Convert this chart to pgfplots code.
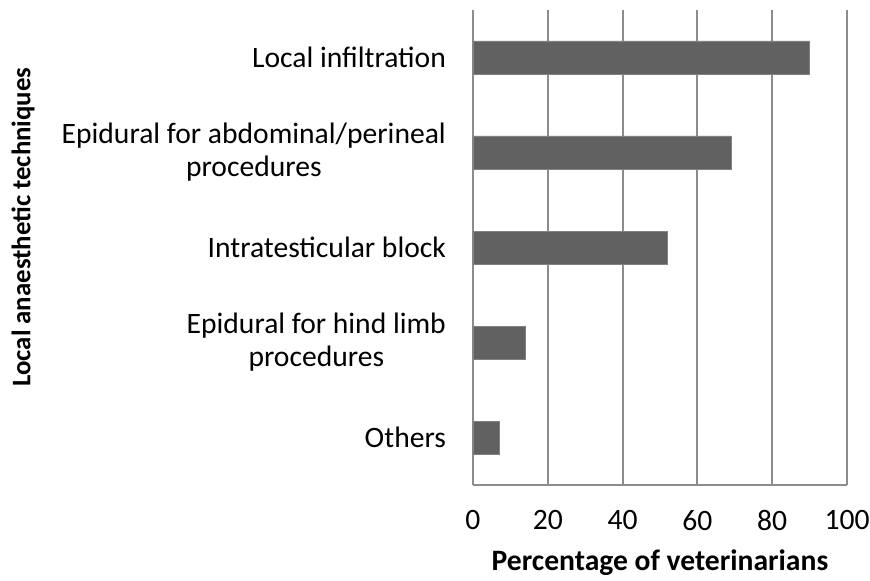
\documentclass[border=0pt]{standalone}
\usepackage{fontspec}
\setmainfont{Carlito}
\usepackage{pgfplots}
\pgfplotsset{compat=1.18}

\definecolor{barfill}{HTML}{616161}
\definecolor{gridc}{HTML}{8C8C8C}

\begin{document}
\begin{tikzpicture}
\path[use as bounding box] (-236.5pt,-48pt) rectangle (198.5pt,242.5pt);
\begin{axis}[
  at={(0,0)}, anchor=south west,
  scale only axis,
  width=187pt, height=237.5pt,
  xbar, bar width=16.5pt,
  xmin=0, xmax=100,
  ymin=0.5, ymax=5.5,
  y dir=reverse,
  xtick={0,20,40,60,80,100},
  ytick={1,2,3,4,5},
  yticklabels={Local infiltration,
    {Epidural for abdominal/perineal\\procedures},
    Intratesticular block,
    {Epidural for hind limb\\procedures},
    Others},
  major tick length=0pt,
  axis x line*=bottom,
  axis y line*=left,
  axis line style={gridc, line width=1pt, -},
  xmajorgrids,
  major grid style={gridc, line width=1pt},
  /pgf/number format/assume math mode=true,
  tick label style={font=\fontsize{14.8}{16.5}\selectfont},
  yticklabel style={align=center, anchor=east, xshift=-10pt},
  xticklabel style={yshift=-9pt},
  xlabel={Percentage of veterinarians},
  ylabel={Local anaesthetic techniques},
  xlabel style={font=\fontsize{14.8}{16.5}\selectfont\bfseries,
    at={(axis description cs:0.5,-0.164)}, anchor=center},
  ylabel style={font=\fontsize{13.4}{16}\selectfont\bfseries,
    at={(axis description cs:-1.203,0.543)}, anchor=center},
]
\addplot[fill=barfill, draw=barfill!80!white, line width=0.4pt] coordinates {
  (90,1)
  (69,2)
  (52,3)
  (14,4)
  (7,5)
};
\end{axis}
\end{tikzpicture}
\end{document}
